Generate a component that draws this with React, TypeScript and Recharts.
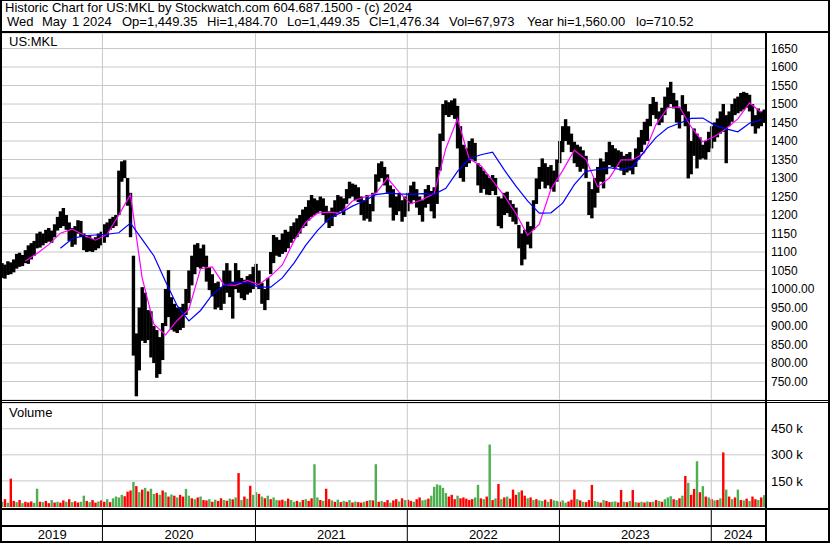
import React from 'react';
import { ComposedChart, Bar, Line, XAxis, YAxis, CartesianGrid, ReferenceLine, Cell } from 'recharts';

// weekly high / low, first bar = week of 1 May 2019
const highs = [
  1070, 1066, 1075, 1072, 1080, 1095, 1098, 1092, 1105, 1118,
  1124, 1130, 1150, 1155, 1150, 1160, 1165, 1158, 1175, 1195,
  1210, 1219, 1200, 1180, 1165, 1170, 1186, 1184, 1150, 1140,
  1145, 1135, 1140, 1150, 1155, 1175, 1180, 1190, 1195, 1200,
  1320, 1345, 1348, 1300, 1260, 1090, 880, 950, 1005, 990,
  943, 940, 900, 889, 870, 908, 1000, 1051, 978, 960,
  950, 951, 960, 1000, 1050, 1090, 1120, 1124, 1110, 1120,
  1090, 1059, 1040, 1016, 1020, 1005, 1050, 1070, 1050, 1020,
  1070, 1051, 1030, 1025, 1035, 1040, 1060, 1068, 1050, 1016,
  1000, 1030, 1100, 1146, 1140, 1133, 1150, 1160, 1155, 1170,
  1180, 1191, 1200, 1215, 1222, 1240, 1254, 1245, 1240, 1250,
  1245, 1225, 1210, 1220, 1240, 1254, 1250, 1245, 1270, 1290,
  1285, 1282, 1275, 1250, 1240, 1254, 1230, 1260, 1310, 1340,
  1345, 1330, 1310, 1280, 1270, 1250, 1260, 1240, 1250, 1260,
  1280, 1290, 1270, 1250, 1240, 1270, 1281, 1265, 1275, 1330,
  1420, 1500, 1510, 1505, 1510, 1515, 1495, 1440, 1390, 1380,
  1400, 1407, 1395, 1340, 1330, 1320, 1310, 1300, 1308, 1300,
  1250, 1245, 1260, 1263, 1240, 1230, 1220, 1173, 1150, 1160,
  1182, 1170, 1240, 1299, 1330, 1353, 1340, 1330, 1335, 1320,
  1350, 1400, 1440, 1459, 1440, 1420, 1398, 1390, 1385, 1375,
  1360, 1290, 1270, 1300, 1330, 1353, 1345, 1370, 1398, 1389,
  1380, 1375, 1371, 1360, 1365, 1370, 1350, 1380, 1410, 1430,
  1452, 1460, 1500, 1519, 1506, 1480, 1490, 1520, 1545, 1560,
  1530, 1510, 1490, 1524, 1500, 1480, 1400, 1434, 1420, 1410,
  1390, 1400, 1425, 1440, 1450, 1461, 1480, 1500, 1470, 1480,
  1500, 1515, 1520, 1530, 1533, 1530, 1525, 1500, 1470, 1488,
  1480, 1485,
];

const lows = [
  1030, 1028, 1038, 1040, 1045, 1055, 1060, 1062, 1070, 1068,
  1080, 1090, 1110, 1112, 1118, 1124, 1128, 1125, 1140, 1158,
  1165, 1170, 1160, 1130, 1114, 1120, 1150, 1140, 1105, 1100,
  1102, 1100, 1105, 1110, 1118, 1125, 1140, 1160, 1165, 1170,
  1200, 1290, 1300, 1225, 1140, 820, 710, 780, 860, 854,
  862, 815, 800, 760, 770, 808, 900, 924, 890, 885,
  881, 889, 895, 930, 962, 1010, 1040, 1059, 1055, 1060,
  1020, 997, 980, 945, 950, 943, 960, 990, 978, 920,
  1000, 990, 975, 970, 985, 990, 1000, 1010, 1000, 960,
  943, 970, 1040, 1070, 1090, 1087, 1095, 1100, 1110, 1125,
  1135, 1140, 1150, 1165, 1170, 1185, 1195, 1200, 1205, 1210,
  1200, 1180, 1165, 1170, 1195, 1205, 1210, 1200, 1230, 1245,
  1250, 1240, 1235, 1200, 1185, 1190, 1182, 1210, 1260, 1290,
  1300, 1280, 1260, 1220, 1185, 1200, 1210, 1182, 1195, 1210,
  1230, 1240, 1220, 1200, 1182, 1220, 1230, 1210, 1191, 1230,
  1320, 1400, 1470, 1465, 1470, 1460, 1380, 1300, 1290, 1330,
  1340, 1350, 1345, 1280, 1260, 1270, 1255, 1254, 1265, 1254,
  1170, 1164, 1200, 1205, 1195, 1182, 1175, 1110, 1064, 1080,
  1120, 1110, 1160, 1230, 1270, 1290, 1272, 1280, 1270, 1263,
  1290, 1340, 1370, 1400, 1390, 1370, 1340, 1330, 1317, 1325,
  1300, 1200, 1191, 1220, 1260, 1290, 1272, 1310, 1335, 1330,
  1326, 1330, 1320, 1308, 1315, 1320, 1310, 1330, 1350, 1370,
  1390, 1400, 1440, 1470, 1460, 1443, 1450, 1470, 1490, 1500,
  1488, 1450, 1434, 1470, 1440, 1299, 1310, 1360, 1326, 1350,
  1353, 1350, 1370, 1380, 1398, 1410, 1420, 1425, 1340, 1440,
  1452, 1470, 1475, 1480, 1485, 1490, 1480, 1440, 1420, 1434,
  1440, 1449,
];

// moving averages, one reading every 4th week starting at week 8
const maFirstWeek = 8;
const maStep = 4;
const fastMa = [
  1076, 1096, 1120, 1151, 1162, 1146, 1132, 1148, 1200, 1255,
  1030, 905, 876, 915, 945, 1055, 1060, 1012, 1010, 1023,
  1012, 1035, 1065, 1130, 1180, 1205, 1208, 1205, 1238, 1248,
  1258, 1300, 1262, 1230, 1242, 1258, 1380, 1460, 1352, 1333,
  1293, 1252, 1204, 1145, 1175, 1270, 1320, 1375, 1350, 1276,
  1300, 1349, 1349, 1368, 1445, 1490, 1492, 1438, 1398, 1412,
  1433, 1460, 1503, 1478,
];
const slowMa = [
  null, null, null, 1110, 1136, 1144, 1146, 1148, 1152, 1178,
  1134, 1090, 1020, 955, 914, 942, 985, 1010, 1019, 1017,
  1005, 1005, 1030, 1070, 1118, 1158, 1190, 1206, 1224, 1238,
  1255, 1259, 1257, 1256, 1258, 1256, 1272, 1318, 1352, 1363,
  1370, 1322, 1278, 1238, 1205, 1206, 1232, 1282, 1318, 1323,
  1328, 1323, 1330, 1372, 1410, 1436, 1448, 1461, 1462, 1443,
  1433, 1425, 1448, 1458,
];

// volume in thousands, r = down, g = up
const volumes = [
  30, 45, 25, 163, 35, 28, 40, 22, 30, 26,
  32, 24, 105, 30, 28, 35, 22, 40, 26, 30,
  25, 38, 30, 45, 28, 33, 26, 30, 65, 35,
  28, 40, 25, 32, 38, 30, 45, 28, 50, 60,
  55, 70, 62, 88, 95, 144, 120, 85, 100, 110,
  90, 105, 75, 80, 70, 95, 85, 60, 72, 65,
  55, 70, 60, 104, 65, 50, 45, 55, 60, 40,
  38, 45, 30, 42, 35, 50, 40, 36, 48, 44,
  55, 195, 40, 60, 48, 122, 70, 85, 75, 60,
  50, 65, 45, 55, 40, 38, 42, 35, 48, 40,
  30, 35, 28, 40, 45, 35, 50, 246, 55, 40,
  35, 105, 45, 38, 30, 42, 28, 35, 30, 40,
  26, 32, 28, 25, 30, 35, 40, 38, 246, 30,
  35, 28, 40, 25, 38, 45, 32, 50, 40, 42,
  35, 30, 45, 55, 38, 42, 48, 65, 116, 130,
  125, 110, 80, 60, 70, 45, 65, 50, 55, 48,
  40, 45, 55, 127, 50, 45, 60, 359, 40, 50,
  132, 45, 55, 60, 48, 100, 70, 85, 95, 65,
  50, 55, 40, 45, 38, 35, 42, 30, 45, 38,
  35, 30, 38, 25, 32, 42, 100, 45, 38, 30,
  28, 40, 127, 35, 30, 25, 40, 35, 28, 30,
  32, 26, 98, 30, 28, 35, 98, 28, 25, 30,
  26, 32, 28, 30, 40, 35, 30, 45, 55, 62,
  45, 40, 50, 65, 178, 139, 70, 104, 263, 85,
  120, 60, 55, 45, 38, 40, 50, 314, 100, 60,
  45, 55, 100, 40, 38, 48, 35, 60, 45, 40,
  55, 68,
];
const volDirs =
  'grgrrgrgrr' + 'rggrgrrgrg' + 'rrgrgrrggr' + 'grrgrrgrgg' +
  'ggrrrgrgrg' + 'rggrgrgrgr' + 'grrggrgrgr' + 'rgrgrrgrgr' +
  'grgrgrggrg' + 'rgrggrrgrg' + 'grgrgrrggr' + 'grrgrgrgrg' +
  'rgrrgrgrgr' + 'grrgrrgrgr' + 'rgrrggrggg' + 'gggrrrgrrr' +
  'rrggrgrgrg' + 'rgrgrrrgrr' + 'grgrggrgrg' + 'grggrrrgrg' +
  'rrrggrgrrg' + 'grrgrgrgrg' + 'rgrgrgrggg' + 'rgrgrgrrgr' +
  'grgrgrgrgr' + 'grgrgrgrrg' + 'rg';

const yearStarts = [34.4, 86.8, 138.8, 190.9, 242.9];
const years = ['2019', '2020', '2021', '2022', '2023', '2024'];
const priceTicks = [750, 800, 850, 900, 950, 1000, 1050, 1100, 1150, 1200, 1250, 1300, 1350, 1400, 1450, 1500, 1550, 1600, 1650];
const volumeTicks = [150, 300, 450];

const title = 'Historic Chart for US:MKL by Stockwatch.com 604.687.1500 - (c) 2024';
// quote line fields and where the source lays them out
const quoteFields: [string, number][] = [
  ['Wed', 7], ['May', 42], ['1 2024', 72], ['Op=1,449.35', 122], ['Hi=1,484.70', 207],
  ['Lo=1,449.35', 287], ['Cl=1,476.34', 369], ['Vol=67,973', 449],
  ['Year hi=1,560.00', 527], ['lo=710.52', 636],
];

const LAST_WEEK = 261.3;
const FONT = '"Liberation Sans", Arial, sans-serif';
const GRID = '#c8c8c8';
const DIR_COLORS: Record<string, string> = { r: '#ff0000', g: '#4caf50' };

const rows = highs.map((h, i) => {
  const k = (i - maFirstWeek) / maStep;
  const onMa = i >= maFirstWeek && Number.isInteger(k);
  return {
    week: i,
    range: [lows[i], h],
    vol: volumes[i],
    fast: onMa ? fastMa[k] : null,
    slow: onMa ? slowMa[k] : null,
  };
});

const bounds = [0, ...yearStarts, LAST_WEEK];
const yearMids = years.map((_, i) => (bounds[i] + bounds[i + 1]) / 2);

const Rule = ({ x, y, w, h }: { x: number; y: number; w: number; h: number }) => (
  <div style={{ position: 'absolute', left: x, top: y, width: w, height: h, background: '#000' }} />
);

const tickStyle = { fill: '#000', fontSize: 12, fontFamily: FONT };
const bigTickStyle = { ...tickStyle, fontSize: 13 };

// bars drawn a bit wider than the band so the weekly ranges merge like the daily ticks do
const WideBar = (w: number) => (p: any) => {
  if (p.height == null || p.width == null) return null;
  const cx = p.x + p.width / 2;
  return <rect x={cx - w / 2} y={p.y} width={w} height={Math.max(p.height, 1)} fill={p.fill} />;
};

function YearTick(props: any) {
  const { x, y, payload } = props;
  const v = payload.value;
  const idx = yearMids.indexOf(v);
  if (idx < 0) {
    return <line x1={x} x2={x} y1={y} y2={y + 16} stroke="#000" strokeWidth={1} />;
  }
  return (
    <text x={x} y={y + 8} textAnchor="middle" dominantBaseline="central" {...bigTickStyle}>
      {years[idx]}
    </text>
  );
}

export default function App() {
  return (
    <div style={{ position: 'relative', width: 830, height: 543, background: '#fff', fontFamily: FONT, fontSize: 13, color: '#000', overflow: 'hidden' }}>
      <style>{'body{margin:0}'}</style>

      <div style={{ position: 'absolute', left: 5, top: 0, whiteSpace: 'pre', lineHeight: '15px' }}>{title}</div>
      {quoteFields.map(([text, left]) => (
        <div key={text} style={{ position: 'absolute', left, top: 14, whiteSpace: 'pre', lineHeight: '15px' }}>
          {text}
        </div>
      ))}

      <div style={{ position: 'absolute', left: 0, top: 33 }}>
        <ComposedChart width={830} height={367} data={rows} margin={{ top: 0, right: 0, bottom: 0, left: 2 }} barCategoryGap={0}>
          <CartesianGrid stroke={GRID} vertical={false} />
          <XAxis type="number" dataKey="week" domain={[0, LAST_WEEK]} hide allowDataOverflow />
          <YAxis
            orientation="right"
            width={65}
            domain={[700, 1692]}
            ticks={priceTicks}
            interval={0}
            allowDataOverflow
            axisLine={false}
            tickLine={false}
            tickSize={0}
            tickMargin={6}
            tick={tickStyle}
            tickFormatter={(v: number) => (v <= 1000 ? v.toFixed(2) : String(v))}
          />
          {yearStarts.map((v) => (
            <ReferenceLine key={v} x={v} stroke={GRID} />
          ))}
          <Bar dataKey="range" fill="#000" shape={WideBar(3.4)} isAnimationActive={false} />
          <Line dataKey="fast" stroke="#ff00ff" strokeWidth={1.2} dot={false} connectNulls isAnimationActive={false} />
          <Line dataKey="slow" stroke="#0000ff" strokeWidth={1.2} dot={false} connectNulls isAnimationActive={false} />
        </ComposedChart>
      </div>

      <div style={{ position: 'absolute', left: 0, top: 403 }}>
        <ComposedChart width={830} height={104} data={rows} margin={{ top: 0, right: 0, bottom: 0, left: 2 }} barCategoryGap={0}>
          <CartesianGrid stroke={GRID} vertical={false} />
          <XAxis type="number" dataKey="week" domain={[0, LAST_WEEK]} hide allowDataOverflow />
          <YAxis
            orientation="right"
            width={65}
            domain={[0, 598]}
            ticks={volumeTicks}
            interval={0}
            axisLine={false}
            tickLine={false}
            tickSize={0}
            tickMargin={6}
            tick={bigTickStyle}
            tickFormatter={(v: number) => `${v} k`}
          />
          {yearStarts.map((v) => (
            <ReferenceLine key={v} x={v} stroke={GRID} />
          ))}
          <Bar dataKey="vol" shape={WideBar(2.4)} isAnimationActive={false}>
            {rows.map((_, i) => (
              <Cell key={i} fill={DIR_COLORS[volDirs[i]] ?? '#a0a0a0'} />
            ))}
          </Bar>
        </ComposedChart>
      </div>

      <div style={{ position: 'absolute', left: 0, top: 510 }}>
        <ComposedChart width={830} height={31} data={rows} margin={{ top: 0, right: 65, bottom: 0, left: 2 }}>
          <XAxis
            type="number"
            dataKey="week"
            domain={[0, LAST_WEEK]}
            allowDataOverflow
            height={15}
            ticks={[...yearStarts, ...yearMids]}
            interval={0}
            tickLine={false}
            tickSize={0}
            tickMargin={0}
            axisLine={false}
            tick={<YearTick />}
          />
          <YAxis hide domain={[0, 1]} />
          {yearStarts.map((v) => (
            <ReferenceLine key={v} x={v} stroke="#000" />
          ))}
          <Line dataKey="vol" stroke="none" dot={false} isAnimationActive={false} />
        </ComposedChart>
      </div>

      <div style={{ position: 'absolute', left: 9, top: 34, lineHeight: '15px' }}>US:MKL</div>
      <div style={{ position: 'absolute', left: 9, top: 405, lineHeight: '15px' }}>Volume</div>

      <Rule x={0} y={0} w={830} h={1} />
      <Rule x={0} y={0} w={2} h={543} />
      <Rule x={828} y={0} w={2} h={543} />
      <Rule x={0} y={541} w={830} h={2} />
      <Rule x={0} y={31} w={830} h={2} />
      <Rule x={0} y={400} w={830} h={1} />
      <Rule x={0} y={402} w={830} h={1} />
      <Rule x={0} y={508} w={830} h={2} />
      <Rule x={0} y={525} w={767} h={2} />
      <Rule x={765} y={33} w={2} h={510} />
    </div>
  );
}
